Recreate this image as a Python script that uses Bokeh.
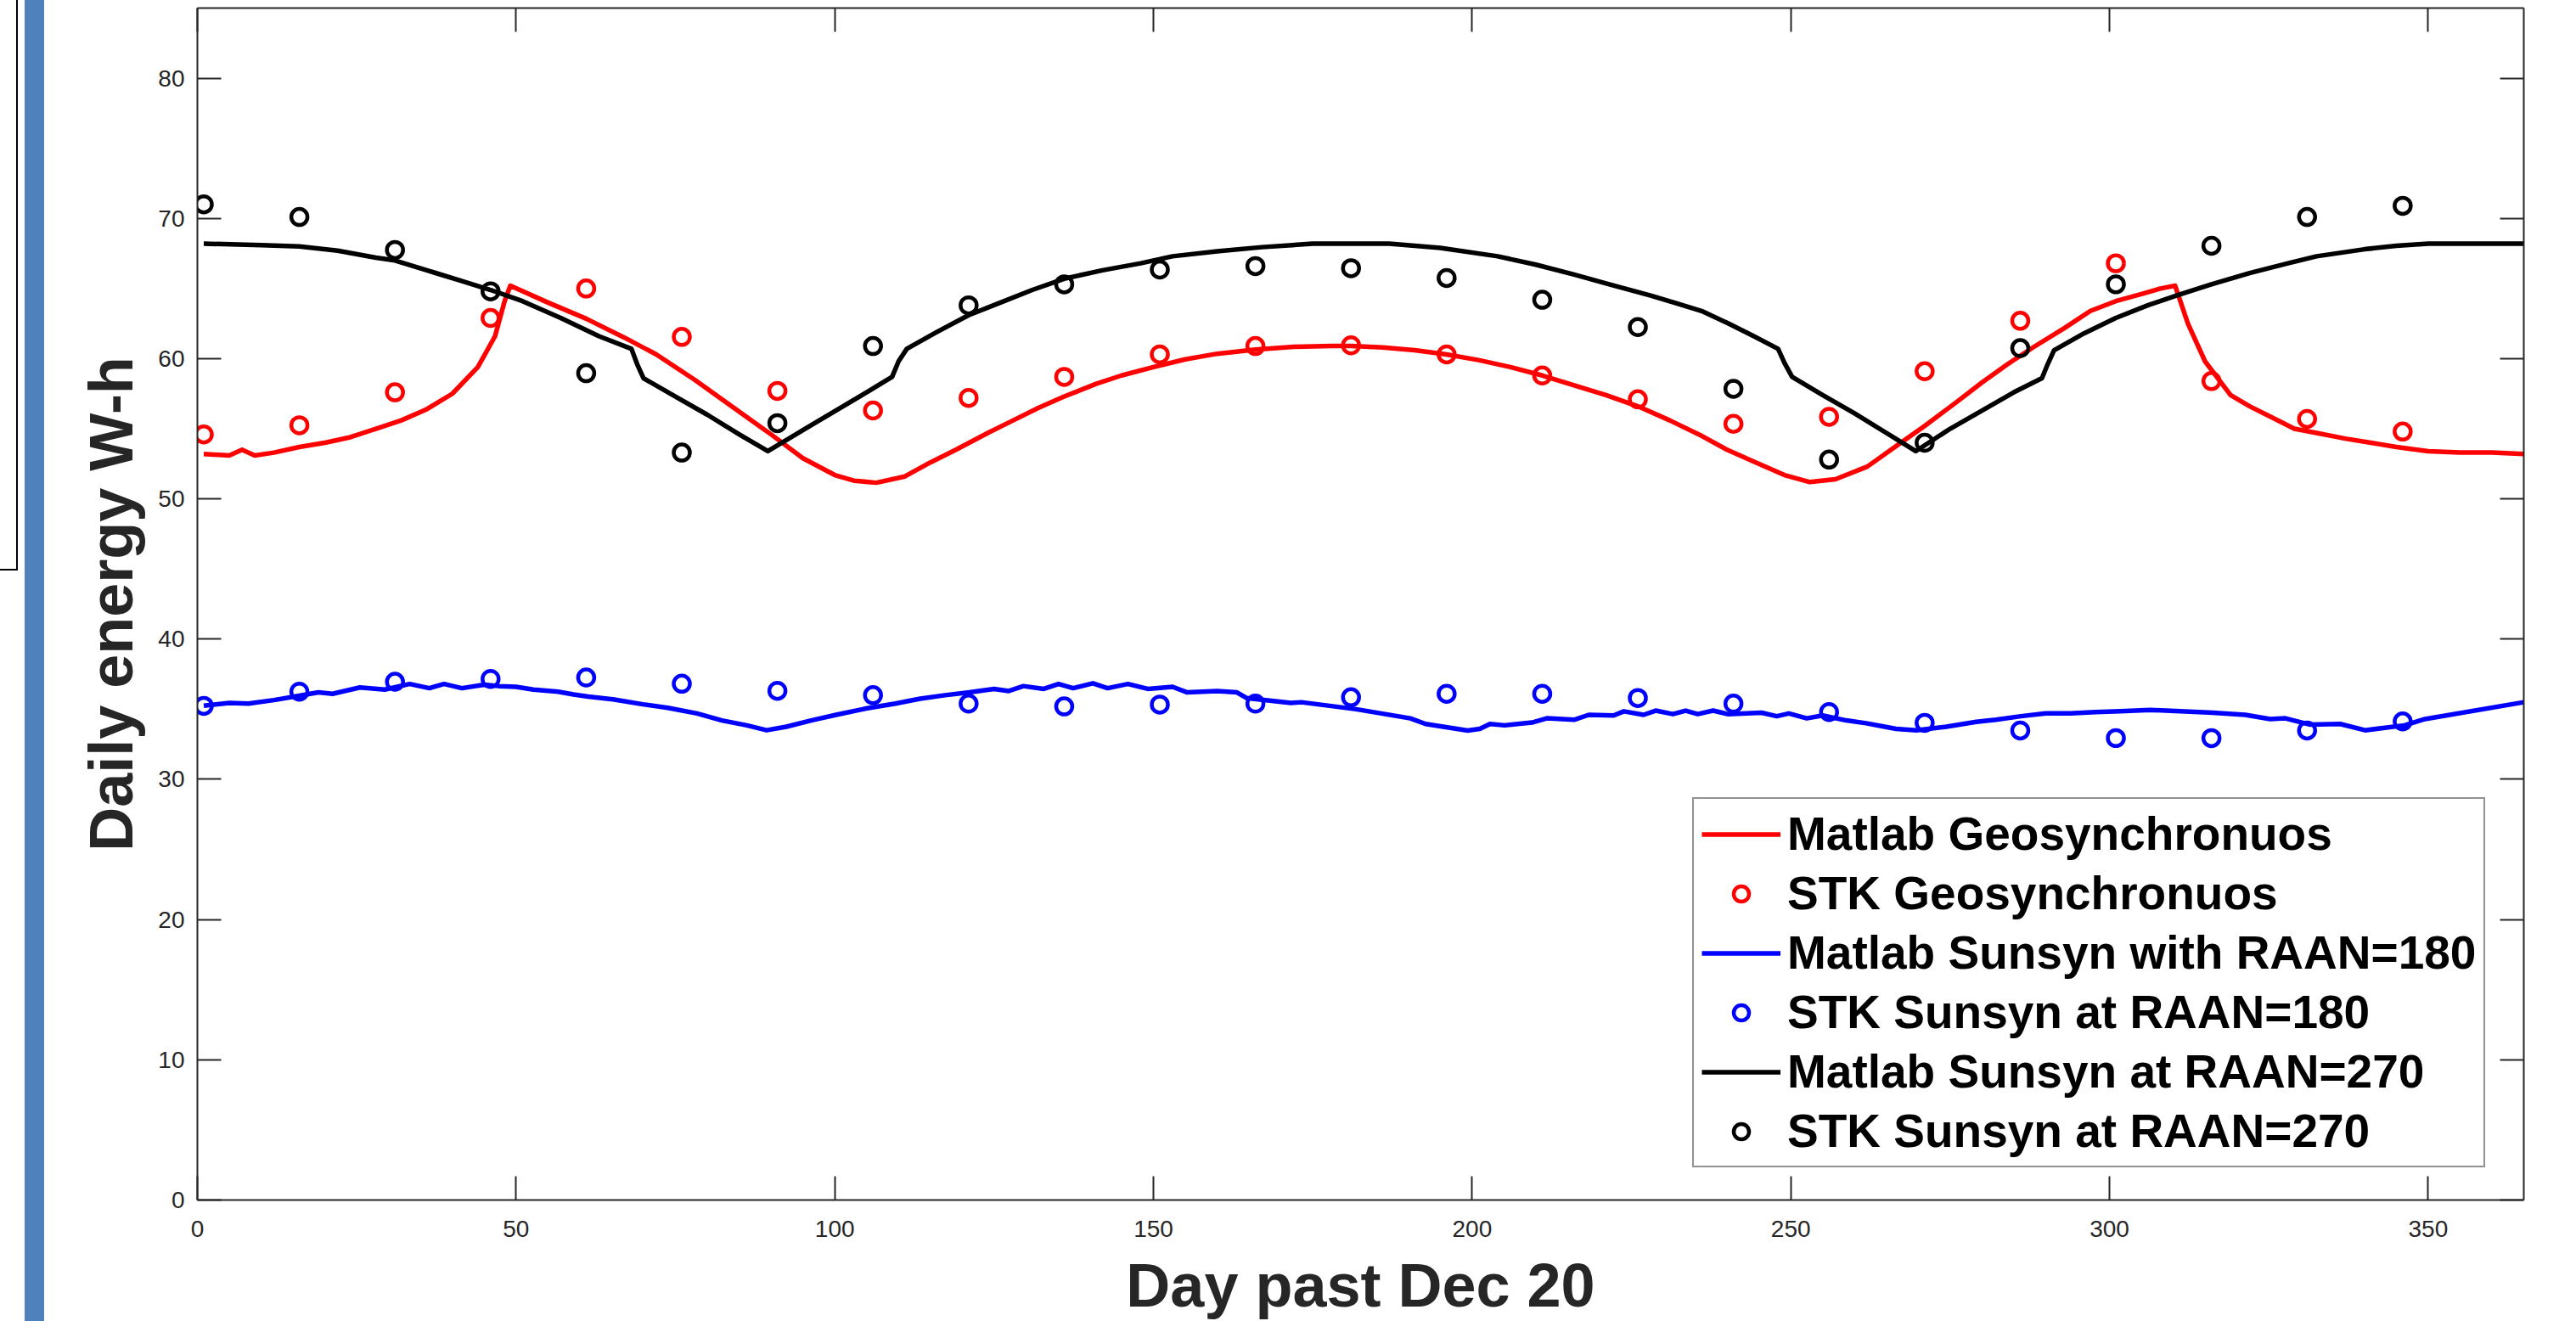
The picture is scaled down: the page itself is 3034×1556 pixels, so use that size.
from bokeh.plotting import figure
from bokeh.models import (Range1d, FixedTicker, LinearAxis, Legend, LegendItem,
                          CustomJSTickFormatter, Div)
from bokeh.layouts import row
from bokeh.embed import file_html
from bokeh.resources import INLINE

# ---------------- data ----------------
stk_days = [1, 16, 31, 46, 61, 76, 91, 106, 121, 136, 151, 166, 181, 196, 211,
            226, 241, 256, 271, 286, 301, 316, 331, 346]
stk_geo = [54.6, 55.25, 57.6, 62.9, 65.0, 61.55, 57.7, 56.3, 57.2, 58.7, 60.3, 60.9,
           60.95, 60.3, 58.8, 57.1, 55.35, 55.85, 59.1, 62.7, 66.8, 58.4, 55.7, 54.8]
stk_ss180 = [35.24, 36.25, 36.96, 37.16, 37.26, 36.82, 36.31, 36.0, 35.4, 35.2, 35.33,
             35.4, 35.85, 36.1, 36.1, 35.8, 35.4, 34.8, 34.03, 33.48, 32.94, 32.94,
             33.48, 34.13]
stk_ss270 = [71.0, 70.1, 67.75, 64.8, 58.96, 53.3, 55.4, 60.9, 63.8, 65.3, 66.35, 66.6,
             66.45, 65.75, 64.2, 62.25, 57.85, 52.8, 54.0, 60.75, 65.3, 68.05, 70.1, 70.9]

geo_days = [1, 5, 7, 9, 12, 16, 20, 24, 28, 32, 36, 40, 44, 46.7, 48.2, 49.1, 55, 61,
            67, 72, 78, 84, 90, 95, 100, 103, 106.5, 111, 115, 119, 124, 128, 132, 136,
            141, 145, 150, 155, 160, 166, 172, 178, 181, 186, 191, 196, 201, 206, 211,
            216, 221, 226, 231, 236, 240, 244.5, 249, 253, 257, 262, 266, 271, 276, 280,
            284, 288, 293, 297, 301, 305, 308, 310.3, 312.3, 315, 319, 322, 325.5, 329,
            332.5, 337, 341, 345, 350, 355, 360, 365]
geo_vals = [53.2, 53.1, 53.5, 53.1, 53.3, 53.7, 54.0, 54.4, 55.0, 55.6, 56.4, 57.5, 59.4,
            61.6, 64.1, 65.2, 64.0, 62.85, 61.5, 60.3, 58.5, 56.55, 54.6, 52.9, 51.7, 51.3,
            51.15, 51.6, 52.6, 53.5, 54.7, 55.6, 56.5, 57.3, 58.2, 58.8, 59.4, 59.95, 60.35,
            60.65, 60.85, 60.9, 60.9, 60.8, 60.6, 60.3, 59.9, 59.4, 58.8, 58.1, 57.4, 56.6,
            55.6, 54.5, 53.5, 52.6, 51.7, 51.2, 51.4, 52.3, 53.6, 55.2, 56.9, 58.3, 59.6,
            60.8, 62.2, 63.4, 64.1, 64.6, 65.0, 65.2, 62.5, 59.8, 57.4, 56.6, 55.8, 55.0,
            54.7, 54.3, 54.0, 53.7, 53.4, 53.3, 53.3, 53.2]

ss180_days = [1, 5, 8, 12, 15.8, 19, 21.2, 25.5, 29.4, 33.3, 36.4, 38.7, 41.5, 45, 47.3,
              50, 52.7, 56.6, 59, 61.3, 65.2, 69.9, 73.8, 78.4, 82.3, 86.2, 89.3, 92.4,
              96.3, 100.2, 104.9, 109.5, 113.4, 117.3, 121.1, 125.0, 127.3, 129.6, 132.8,
              135.1, 137.4, 140.5, 142.8, 146.0, 149.1, 153.0, 155.3, 160.0, 163.1, 164.6,
              171.6, 173.2, 181.8, 190.3, 192.7, 199.3, 201.2, 202.8, 205.1, 209.4, 211.7,
              216.0, 218.3, 222.2, 223.8, 226.9, 228.8, 231.5, 233.5, 235.4, 237.8, 240.1,
              243.1, 245.4, 247.8, 249.7, 252.5, 255, 258.7, 261.8, 264.2, 266.5, 269.7,
              274.4, 279.1, 282.2, 286.1, 290, 293.9, 297.8, 301.7, 306.4, 311.1, 316.2,
              321.3, 325.2, 327.6, 331.5, 336.2, 340.1, 346.3, 349.5, 365]
ss180_vals = [35.25, 35.45, 35.4, 35.65, 35.95, 36.2, 36.1, 36.55, 36.4, 36.8, 36.5, 36.8,
              36.5, 36.75, 36.65, 36.6, 36.4, 36.25, 36.05, 35.9, 35.7, 35.35, 35.1, 34.7,
              34.2, 33.85, 33.5, 33.75, 34.2, 34.6, 35.05, 35.4, 35.75, 36.0, 36.2, 36.45,
              36.3, 36.65, 36.45, 36.8, 36.5, 36.85, 36.5, 36.8, 36.45, 36.6, 36.2, 36.3,
              36.2, 35.8, 35.45, 35.5, 35.0, 34.35, 33.95, 33.48, 33.6, 33.95, 33.85, 34.05,
              34.35, 34.25, 34.6, 34.55, 34.85, 34.6, 34.9, 34.65, 34.9, 34.65, 34.9, 34.65,
              34.7, 34.75, 34.5, 34.7, 34.35, 34.55, 34.2, 34.0, 33.8, 33.6, 33.5, 33.75,
              34.1, 34.25, 34.5, 34.7, 34.7, 34.8, 34.85, 34.95, 34.85, 34.75, 34.6, 34.3,
              34.35, 33.9, 33.95, 33.5, 33.85, 34.3, 35.5]

ss270_days = [1, 10, 16, 22, 28, 31, 36, 41, 46, 51, 57, 63, 68.1, 69, 70, 75, 80, 85,
              89.5, 95, 100, 105, 109, 110, 111.3, 116, 121, 126, 131, 136, 142, 148, 153,
              160, 167, 175, 187, 195, 204, 210, 216, 221.5, 228, 232, 236, 240, 244, 248,
              249, 250.2, 255, 260, 265, 269.6, 275, 280, 285, 289.4, 290.3, 291.3, 296,
              301, 306, 310.5, 316, 322, 328, 332.5, 340, 345, 350, 365]
ss270_vals = [68.2, 68.1, 68.0, 67.7, 67.2, 67.0, 66.3, 65.6, 64.9, 64.1, 62.9, 61.6, 60.7,
              59.6, 58.6, 57.3, 56.0, 54.6, 53.4, 54.9, 56.25, 57.6, 58.7, 59.8, 60.7, 61.9,
              63.1, 64.0, 64.9, 65.7, 66.3, 66.8, 67.3, 67.65, 67.95, 68.2, 68.2, 67.9, 67.3,
              66.7, 66.0, 65.3, 64.5, 63.95, 63.4, 62.55, 61.65, 60.7, 59.7, 58.7, 57.4,
              56.1, 54.7, 53.4, 55.0, 56.3, 57.6, 58.6, 59.6, 60.6, 61.8, 62.9, 63.8, 64.5,
              65.3, 66.1, 66.8, 67.3, 67.8, 68.05, 68.2, 68.2]

x_ticks = [0, 50, 100, 150, 200, 250, 300, 350]
y_ticks = [0, 10, 20, 30, 40, 50, 60, 70, 80]

labels = ["Matlab Geosynchronuos", "STK Geosynchronuos", "Matlab Sunsyn with RAAN=180",
          "STK Sunsyn at RAAN=180", "Matlab Sunsyn at RAAN=270", "STK Sunsyn at RAAN=270"]

FONT = "Liberation Sans"
AX = "#262626"

# ---------------- left decoration strip ----------------
deco = Div(text=('<div style="position:relative;width:60px;height:1556px;margin:0;padding:0;">'
                 '<div style="position:absolute;left:29px;top:0px;width:23px;height:1556px;'
                 'background:#4F81BD;"></div>'
                 '<div style="position:absolute;left:0px;top:0px;width:21px;height:672px;'
                 'border-right:2px solid #000;border-bottom:2px solid #000;"></div></div>'),
           width=60, height=1556, margin=0)

# ---------------- main figure ----------------
p = figure(width=2974, height=1556, x_range=Range1d(0, 365), y_range=Range1d(0, 85),
           toolbar_location=None, output_backend="svg",
           min_border_left=172, min_border_right=62, min_border_top=9,
           min_border_bottom=142)
p.outline_line_color = None
p.xgrid.visible = False
p.ygrid.visible = False
p.background_fill_color = "white"


def style_axis(ax, ticks, show_labels=True):
    ax.ticker = FixedTicker(ticks=ticks)
    ax.axis_line_color = AX
    ax.axis_line_width = 2
    ax.major_tick_line_color = AX
    ax.major_tick_line_width = 2
    ax.major_tick_in = 28
    ax.major_tick_out = 0
    ax.minor_tick_line_color = None
    ax.major_label_text_font = FONT
    ax.major_label_text_color = AX
    ax.major_label_text_font_size = "28px"
    if not show_labels:
        ax.formatter = CustomJSTickFormatter(code="return ''")
        ax.major_label_text_font_size = "0px"
        ax.major_label_standoff = 0


style_axis(p.xaxis[0], x_ticks)
style_axis(p.yaxis[0], y_ticks)
p.xaxis[0].major_label_standoff = 24
p.yaxis[0].major_label_standoff = 15
for ax, lab in ((p.xaxis[0], "Day past Dec 20"), (p.yaxis[0], "Daily energy W-h")):
    ax.axis_label = lab
    ax.axis_label_text_font = FONT
    ax.axis_label_text_font_style = "bold"
    ax.axis_label_text_font_size = "72px"
    ax.axis_label_text_color = AX
p.xaxis[0].axis_label_standoff = 14
p.yaxis[0].axis_label_standoff = 12

top_ax = LinearAxis()
style_axis(top_ax, x_ticks, show_labels=False)
p.add_layout(top_ax, "above")
right_ax = LinearAxis()
style_axis(right_ax, y_ticks, show_labels=False)
p.add_layout(right_ax, "right")

LW = 5.5
MS = 19
MLW = 4.5
r1 = p.line(geo_days, geo_vals, line_color="#FF0000", line_width=LW, line_join="round")
r2 = p.scatter(stk_days, stk_geo, marker="circle", size=MS, fill_color=None,
               line_color="#FF0000", line_width=MLW)
r3 = p.line(ss180_days, ss180_vals, line_color="#0000FF", line_width=LW, line_join="round")
r4 = p.scatter(stk_days, stk_ss180, marker="circle", size=MS, fill_color=None,
               line_color="#0000FF", line_width=MLW)
r5 = p.line(ss270_days, ss270_vals, line_color="black", line_width=LW, line_join="round")
r6 = p.scatter(stk_days, stk_ss270, marker="circle", size=MS, fill_color=None,
               line_color="black", line_width=MLW)

legend = Legend(items=[LegendItem(label=l, renderers=[r]) for l, r in
                       zip(labels, [r1, r2, r3, r4, r5, r6])],
                location=(1761, 38))
legend.label_text_font = FONT
legend.label_text_font_style = "bold"
legend.label_text_font_size = "55px"
legend.label_text_color = "black"
legend.border_line_color = AX
legend.border_line_width = 2
legend.background_fill_color = "white"
legend.background_fill_alpha = 1
legend.glyph_width = 93
legend.glyph_height = 45
legend.label_height = 60
legend.spacing = 6
legend.padding = 9
legend.margin = 0
legend.label_standoff = 8
p.add_layout(legend, "center")

layout = row(deco, p, spacing=0)
open("out.html", "w").write(file_html(layout, INLINE))
